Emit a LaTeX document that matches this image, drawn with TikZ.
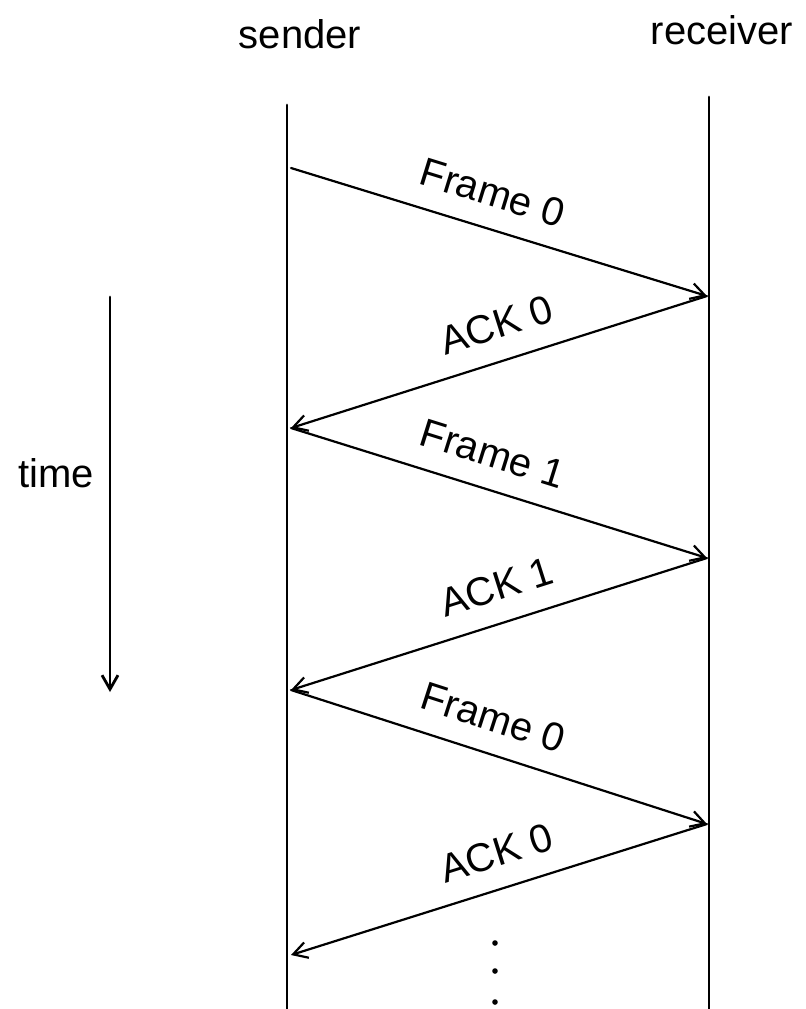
\documentclass[tikz,border=0pt]{standalone}
\usepackage{fontspec}
\setmainfont{Liberation Sans}
\usetikzlibrary{arrows.meta}
\begin{document}
\begin{tikzpicture}[x=0.5pt,y=-0.5pt,>={Straight Barb[length=7pt,width=8pt]},line cap=round,line join=round,
  lifeline/.style={line width=1.4pt},
  msg/.style={->,line width=1.1pt},
  lbl/.style={sloped,above=7pt,font=\fontsize{20}{24}\selectfont},
  head/.style={font=\fontsize{20}{24}\selectfont}]
  \useasboundingbox (0,0) rectangle (806,1009);
  % the two stations
  \node[head] (sender) at (300,34) {sender};
  \node[head] (receiver) at (722,30) {receiver};
  \coordinate (sTop) at (287,105); \coordinate (sBot) at (287,1009);
  \coordinate (rTop) at (709,97);  \coordinate (rBot) at (709,1009);
  \draw[lifeline] (sTop)--(sBot);
  \draw[lifeline] (rTop)--(rBot);
  % send / receive instants
  \coordinate (s0) at (291,168); \coordinate (r0) at (707,296);
  \coordinate (s1) at (291,428); \coordinate (r1) at (707,558);
  \coordinate (s2) at (291,690); \coordinate (r2) at (707,824);
  \coordinate (s3) at (291,955);
  \draw[msg] (s0) -- node[lbl,pos=.46] (f0) {Frame 0} (r0);
  \draw[msg] (r0) -- node[lbl,pos=.48] (a0) {ACK 0} (s1);
  \draw[msg] (s1) -- node[lbl,pos=.46] (f1) {Frame 1} (r1);
  \draw[msg] (r1) -- node[lbl,pos=.48] (a1) {ACK 1} (s2);
  \draw[msg] (s2) -- node[lbl,pos=.46] (f2) {Frame 0} (r2);
  \draw[msg] (r2) -- node[lbl,pos=.48] (a2) {ACK 0} (s3);
  \foreach \y in {943,971,1002} \fill (495,\y) circle (1.4pt);
  % time axis
  \node[head] (time) at (56,473) {time};
  \coordinate (tTop) at (110,297); \coordinate (tBot) at (110,692);
  \draw[->,line width=1.4pt] (tTop)--(tBot);
\end{tikzpicture}
\end{document}
